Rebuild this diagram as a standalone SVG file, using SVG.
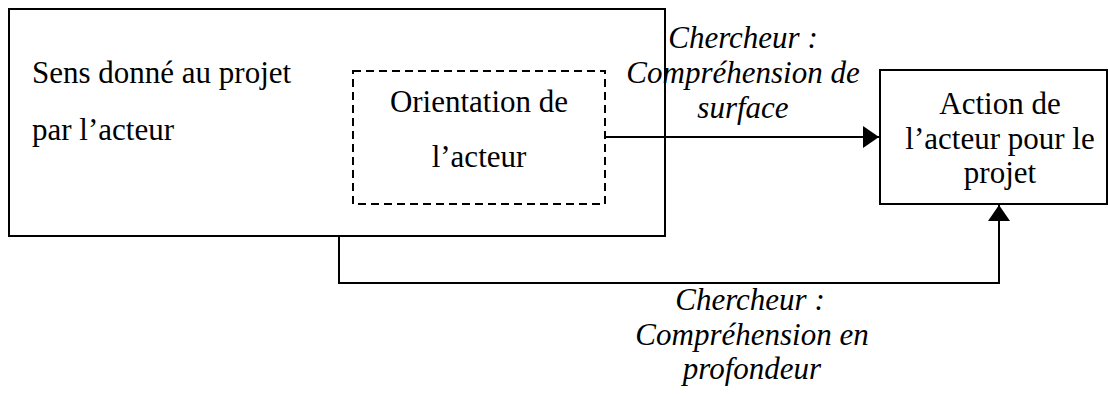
<svg xmlns="http://www.w3.org/2000/svg" width="1108" height="394" viewBox="0 0 1108 394">
<style>
.box{fill:#fff;stroke:#000;stroke-width:2}
.dash{fill:none;stroke:#000;stroke-width:2;stroke-dasharray:8 5}
.line{fill:none;stroke:#000;stroke-width:2}
text{font-family:'Liberation Serif','Times New Roman','DejaVu Serif',serif;font-size:31px;fill:#000}
.i{font-style:italic;text-anchor:middle}
.c{text-anchor:middle}
</style>
<defs>
<marker id="arr" markerUnits="userSpaceOnUse" markerWidth="18" markerHeight="24" refX="16" refY="11" orient="auto">
<path d="M0,0 L16,11 L0,22 Z" fill="#000"/>
</marker>
</defs>
<g id="sens">
<rect class="box" x="9" y="9" width="656" height="227"/>
<text x="32" y="83">Sens donné au projet</text>
<text x="32" y="140">par l’acteur</text>
</g>
<g id="orientation">
<rect class="dash" x="353" y="71" width="252" height="133"/>
<text class="c" x="479" y="112">Orientation de</text>
<text class="c" x="479" y="167">l’acteur</text>
</g>
<g id="action">
<rect class="box" x="880" y="70" width="227" height="134"/>
<text class="c" x="1000" y="114">Action de</text>
<text class="c" x="1000" y="149">l’acteur pour le</text>
<text class="c" x="1000" y="183">projet</text>
</g>
<g id="connectors">
<path class="line" d="M605,137 L879,137" marker-end="url(#arr)"/>
<path class="line" d="M339,236 L339,283 L999,283 L999,205" marker-end="url(#arr)"/>
</g>
<g id="labels">
<text class="i" x="743" y="48">Chercheur :</text>
<text class="i" x="743" y="83">Compréhension de</text>
<text class="i" x="743" y="118">surface</text>
<text class="i" x="750" y="310">Chercheur :</text>
<text class="i" x="752" y="345">Compréhension en</text>
<text class="i" x="752" y="379">profondeur</text>
</g>
</svg>
